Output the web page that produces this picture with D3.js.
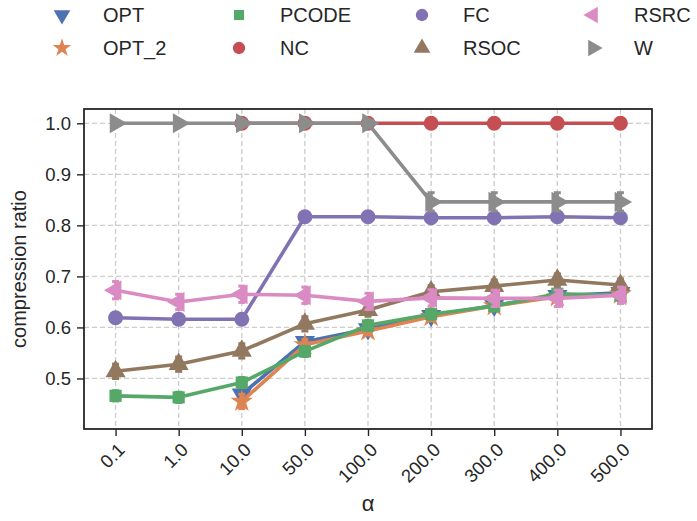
<!DOCTYPE html>
<html>
<head>
<meta charset="utf-8">
<script src="https://cdn.jsdelivr.net/npm/d3@7/dist/d3.min.js"></script>
<style>
  html, body { margin: 0; padding: 0; background: #ffffff; }
  svg { display: block; }
  text { font-family: "Liberation Sans", Arial, "DejaVu Sans", sans-serif; fill: #262626; }
</style>
</head>
<body>
<svg id="chart" width="697" height="521"></svg>
<script>
// α values on the x axis (categorical)
const alphas = ["0.1", "1.0", "10.0", "50.0", "100.0", "200.0", "300.0", "400.0", "500.0"];
const yTicks = [0.5, 0.6, 0.7, 0.8, 0.9, 1.0];

// compression ratio per method (null = not run)
const OPT    = [null, null, 0.469, 0.572, 0.597, 0.623, 0.643, 0.662, 0.668];
const OPT_2  = [null, null, 0.455, 0.566, 0.593, 0.621, 0.642, 0.660, 0.665];
const PCODE  = [0.466, 0.463, 0.492, 0.553, 0.604, 0.626, 0.642, 0.666, 0.663];
const NC     = [null, null, 1.0, 1.0, 1.0, 1.0, 1.0, 1.0, 1.0];
const FC     = [0.619, 0.616, 0.616, 0.817, 0.817, 0.815, 0.815, 0.817, 0.815];
const RSOC   = [0.514, 0.528, 0.554, 0.607, 0.634, 0.670, 0.681, 0.693, 0.683];
const RSRC   = [0.673, 0.650, 0.665, 0.663, 0.651, 0.658, 0.657, 0.657, 0.663];
const W      = [1.0, 1.0, 1.0, 1.0, 1.0, 0.846, 0.846, 0.846, 0.846];

// spread (half-width of the error bar) per method
const OPT_err   = [0, 0, 0.006, 0.006, 0.006, 0.006, 0.006, 0.006, 0.006];
const OPT_2_err = [0, 0, 0.014, 0.010, 0.008, 0.008, 0.008, 0.008, 0.008];
const PCODE_err = [0.010, 0.010, 0.010, 0.010, 0.010, 0.010, 0.010, 0.010, 0.010];
const NC_err    = [0, 0, 0, 0, 0, 0, 0, 0, 0];
const FC_err    = [0.002, 0.002, 0.002, 0.002, 0.002, 0.002, 0.002, 0.002, 0.002];
const RSOC_err  = [0.014, 0.014, 0.014, 0.014, 0.012, 0.012, 0.012, 0.012, 0.012];
const RSRC_err  = [0.017, 0.015, 0.016, 0.016, 0.016, 0.016, 0.016, 0.016, 0.016];
const W_err     = [0, 0, 0, 0, 0, 0.018, 0.018, 0.018, 0.018];

const series = [
  { name: "OPT",   values: OPT,   err: OPT_err,   color: "#4C72B0", shape: "down" },
  { name: "OPT_2", values: OPT_2, err: OPT_2_err, color: "#DD8452", shape: "star" },
  { name: "PCODE", values: PCODE, err: PCODE_err, color: "#55A868", shape: "square" },
  { name: "NC",    values: NC,    err: NC_err,    color: "#C44E52", shape: "circle" },
  { name: "FC",    values: FC,    err: FC_err,    color: "#8172B3", shape: "circle" },
  { name: "RSOC",  values: RSOC,  err: RSOC_err,  color: "#937860", shape: "up" },
  { name: "RSRC",  values: RSRC,  err: RSRC_err,  color: "#DA8BC3", shape: "left" },
  { name: "W",     values: W,     err: W_err,     color: "#8C8C8C", shape: "right" }
];

const svg = d3.select("#chart");
const margin = { left: 84, right: 45, top: 109, bottom: 92 };
const width = 697, height = 521;
const x0 = margin.left, x1 = width - margin.right;
const y0 = margin.top, y1 = height - margin.bottom;

const x = d3.scalePoint().domain(alphas).range([x0, x1]).padding(0.5);
const y = d3.scaleLinear().domain([0.401, 1.028]).range([y1, y0]);

// grid
const grid = svg.append("g");
grid.selectAll("line.gx").data(alphas).join("line")
  .attr("x1", d => x(d)).attr("x2", d => x(d))
  .attr("y1", y0).attr("y2", y1)
  .attr("stroke", "#cccccc").attr("stroke-width", 1.3).attr("stroke-dasharray", "5,3");
grid.selectAll("line.gy").data(yTicks).join("line")
  .attr("x1", x0).attr("x2", x1)
  .attr("y1", d => y(d)).attr("y2", d => y(d))
  .attr("stroke", "#cccccc").attr("stroke-width", 1.3).attr("stroke-dasharray", "5,3");

// marker generator
function symbolPath(shape, size) {
  const tri = d3.symbol().type(d3.symbolTriangle).size(size)();
  switch (shape) {
    case "circle": return { d: d3.symbol().type(d3.symbolCircle).size(size)(), rot: 0 };
    case "square": return { d: d3.symbol().type(d3.symbolSquare).size(size * 0.85)(), rot: 0 };
    case "star":   return { d: d3.symbol().type(d3.symbolStar).size(size * 0.9)(), rot: 0 };
    case "up":     return { d: tri, rot: 0 };
    case "down":   return { d: tri, rot: 180 };
    case "left":   return { d: tri, rot: -90 };
    case "right":  return { d: tri, rot: 90 };
  }
}

const line = d3.line()
  .defined(d => d.v != null)
  .x(d => x(d.a))
  .y(d => y(d.v));

const plot = svg.append("g");
series.forEach(s => {
  const pts = alphas.map((a, i) => ({ a, v: s.values[i], e: s.err[i] }));
  const g = plot.append("g");
  g.append("path").datum(pts)
    .attr("d", line)
    .attr("fill", "none").attr("stroke", s.color)
    .attr("stroke-width", 3.6).attr("stroke-linejoin", "round");
  const valid = pts.filter(p => p.v != null);
  // error bars
  valid.filter(p => p.e > 0).forEach(p => {
    const cx = x(p.a), top = y(p.v + p.e), bot = y(p.v - p.e);
    g.append("line").attr("x1", cx).attr("x2", cx).attr("y1", top).attr("y2", bot)
      .attr("stroke", s.color).attr("stroke-width", 3.2);
    [top, bot].forEach(yy => g.append("line")
      .attr("x1", cx - 3.5).attr("x2", cx + 3.5).attr("y1", yy).attr("y2", yy)
      .attr("stroke", s.color).attr("stroke-width", 3));
  });
  const sym = symbolPath(s.shape, 175);
  g.selectAll("path.m").data(valid).join("path")
    .attr("class", "m")
    .attr("d", sym.d)
    .attr("transform", p => `translate(${x(p.a)},${y(p.v)}) rotate(${sym.rot})`)
    .attr("fill", s.color);
});

// axes
const xAxis = svg.append("g").attr("transform", `translate(0,${y1})`)
  .call(d3.axisBottom(x).tickSize(7).tickPadding(4));
xAxis.select(".domain").remove();
xAxis.selectAll(".tick line").attr("stroke", "#262626").attr("stroke-width", 1.4);
xAxis.selectAll(".tick text")
  .attr("font-size", 18.5).attr("text-anchor", "end")
  .attr("dy", null).attr("y", 0).attr("x", 0)
  .attr("transform", "translate(10,22) rotate(-45)")
  .style("fill", "#262626");

const yAxis = svg.append("g").attr("transform", `translate(${x0},0)`)
  .call(d3.axisLeft(y).tickValues(yTicks).tickFormat(d3.format(".1f")).tickSize(7).tickPadding(6));
yAxis.select(".domain").remove();
yAxis.selectAll(".tick line").attr("stroke", "#262626").attr("stroke-width", 1.4);
yAxis.selectAll(".tick text").attr("font-size", 18.5).style("fill", "#262626");

// frame
svg.append("rect").attr("x", x0).attr("y", y0).attr("width", x1 - x0).attr("height", y1 - y0)
  .attr("fill", "none").attr("stroke", "#262626").attr("stroke-width", 1.8);

// axis titles
svg.append("text").attr("x", (x0 + x1) / 2).attr("y", 511)
  .attr("text-anchor", "middle").attr("font-size", 22).text("α");
svg.append("text").attr("transform", `translate(26,${(y0 + y1) / 2}) rotate(-90)`)
  .attr("text-anchor", "middle").attr("font-size", 20).text("compression ratio");

// legend: 4 columns x 2 rows
const legCols = [62, 239, 422, 593];
const legRows = [15, 48];
const legend = svg.append("g");
series.forEach((s, i) => {
  const col = Math.floor(i / 2), row = i % 2;
  const lx = legCols[col], ly = legRows[row];
  const sym = symbolPath(s.shape, 120);
  legend.append("path").attr("d", sym.d)
    .attr("transform", `translate(${lx},${ly}) rotate(${sym.rot})`)
    .attr("fill", s.color);
  legend.append("text").attr("x", lx + 41).attr("y", ly).attr("dy", "0.35em")
    .attr("font-size", 20).text(s.name);
});
</script>
</body>
</html>
